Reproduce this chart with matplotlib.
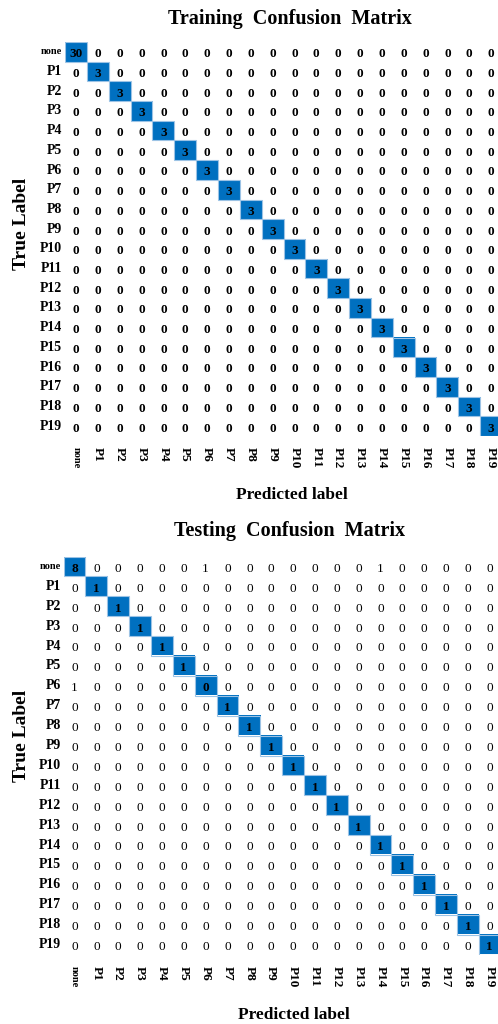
import numpy as np
import matplotlib
matplotlib.use("Agg")
import matplotlib.pyplot as plt
from matplotlib.colors import ListedColormap
from matplotlib.patches import Rectangle

labels = ["none"] + [f"P{i}" for i in range(1, 20)]

# diagonal counts
train_diag = [30] + [3] * 19
test_diag = [8, 1, 1, 1, 1, 1, 0] + [1] * 13
# off-diagonal entries in the testing matrix: (true, predicted, count)
test_off = [(0, 6, 1), (0, 14, 1), (6, 0, 1)]

BLUE = "#0070C0"
SERIF = ["Liberation Serif", "DejaVu Serif"]


def build(diag, off=()):
    m = np.diag(diag).astype(int)
    for r, c, v in off:
        m[r, c] = v
    return m


def draw(ax, mat, bold_vals):
    n = mat.shape[0]
    hl = np.eye(n)
    ax.imshow(hl, cmap=ListedColormap(["white", BLUE]), aspect="auto",
              interpolation="nearest")
    for i in range(n):
        ax.add_patch(Rectangle((i - 0.5, i - 0.5), 1, 1, fill=False,
                               edgecolor="#9CC3E5", lw=0.8))
        for j in range(n):
            ax.text(j, i + 0.12, str(mat[i, j]), ha="center", va="center",
                    fontsize=9.5, family=SERIF,
                    fontweight="bold" if (bold_vals or i == j) else "normal",
                    color="black")
    ax.set_xticks(range(n))
    ax.set_yticks(range(n))
    ax.set_xticklabels(labels, rotation=-90, family=SERIF, fontweight="bold",
                       fontsize=9.5, va="top", ha="center")
    ax.set_yticklabels(labels, family=SERIF, fontweight="bold", fontsize=10)
    ax.get_xticklabels()[0].set_fontsize(7.5)
    ax.get_yticklabels()[0].set_fontsize(7.5)
    for t in ax.get_yticklabels():
        t.set_va("center")
    ax.tick_params(length=0, pad=2)
    ax.tick_params(axis="x", pad=8)
    for s in ax.spines.values():
        s.set_visible(False)


fig = plt.figure(figsize=(4.98, 10.24), dpi=100)

ax1 = fig.add_axes([65 / 498, 1 - 436 / 1024, 437 / 498, 394 / 1024])
draw(ax1, build(train_diag), True)
ax2 = fig.add_axes([63.6 / 498, 1 - 954.5 / 1024, 437 / 498, 398 / 1024])
draw(ax2, build(test_diag, test_off), False)

fig.text(290 / 498, 1 - 19 / 1024, "Training  Confusion  Matrix",
         ha="center", va="center", fontsize=14.5, fontweight="bold", family=SERIF)
fig.text(290 / 498, 1 - 531 / 1024, "Testing  Confusion  Matrix",
         ha="center", va="center", fontsize=14.5, fontweight="bold", family=SERIF)
fig.text(292 / 498, 1 - 495 / 1024, "Predicted label",
         ha="center", va="center", fontsize=12.5, fontweight="bold", family=SERIF)
fig.text(294 / 498, 1 - 1015 / 1024, "Predicted label",
         ha="center", va="center", fontsize=12.5, fontweight="bold", family=SERIF)
fig.text(22 / 498, 1 - 224 / 1024, "True Label", rotation=90,
         ha="center", va="center", fontsize=14, fontweight="bold", family=SERIF)
fig.text(22 / 498, 1 - 736 / 1024, "True Label", rotation=90,
         ha="center", va="center", fontsize=14, fontweight="bold", family=SERIF)

fig.savefig("out.png", dpi=100)
